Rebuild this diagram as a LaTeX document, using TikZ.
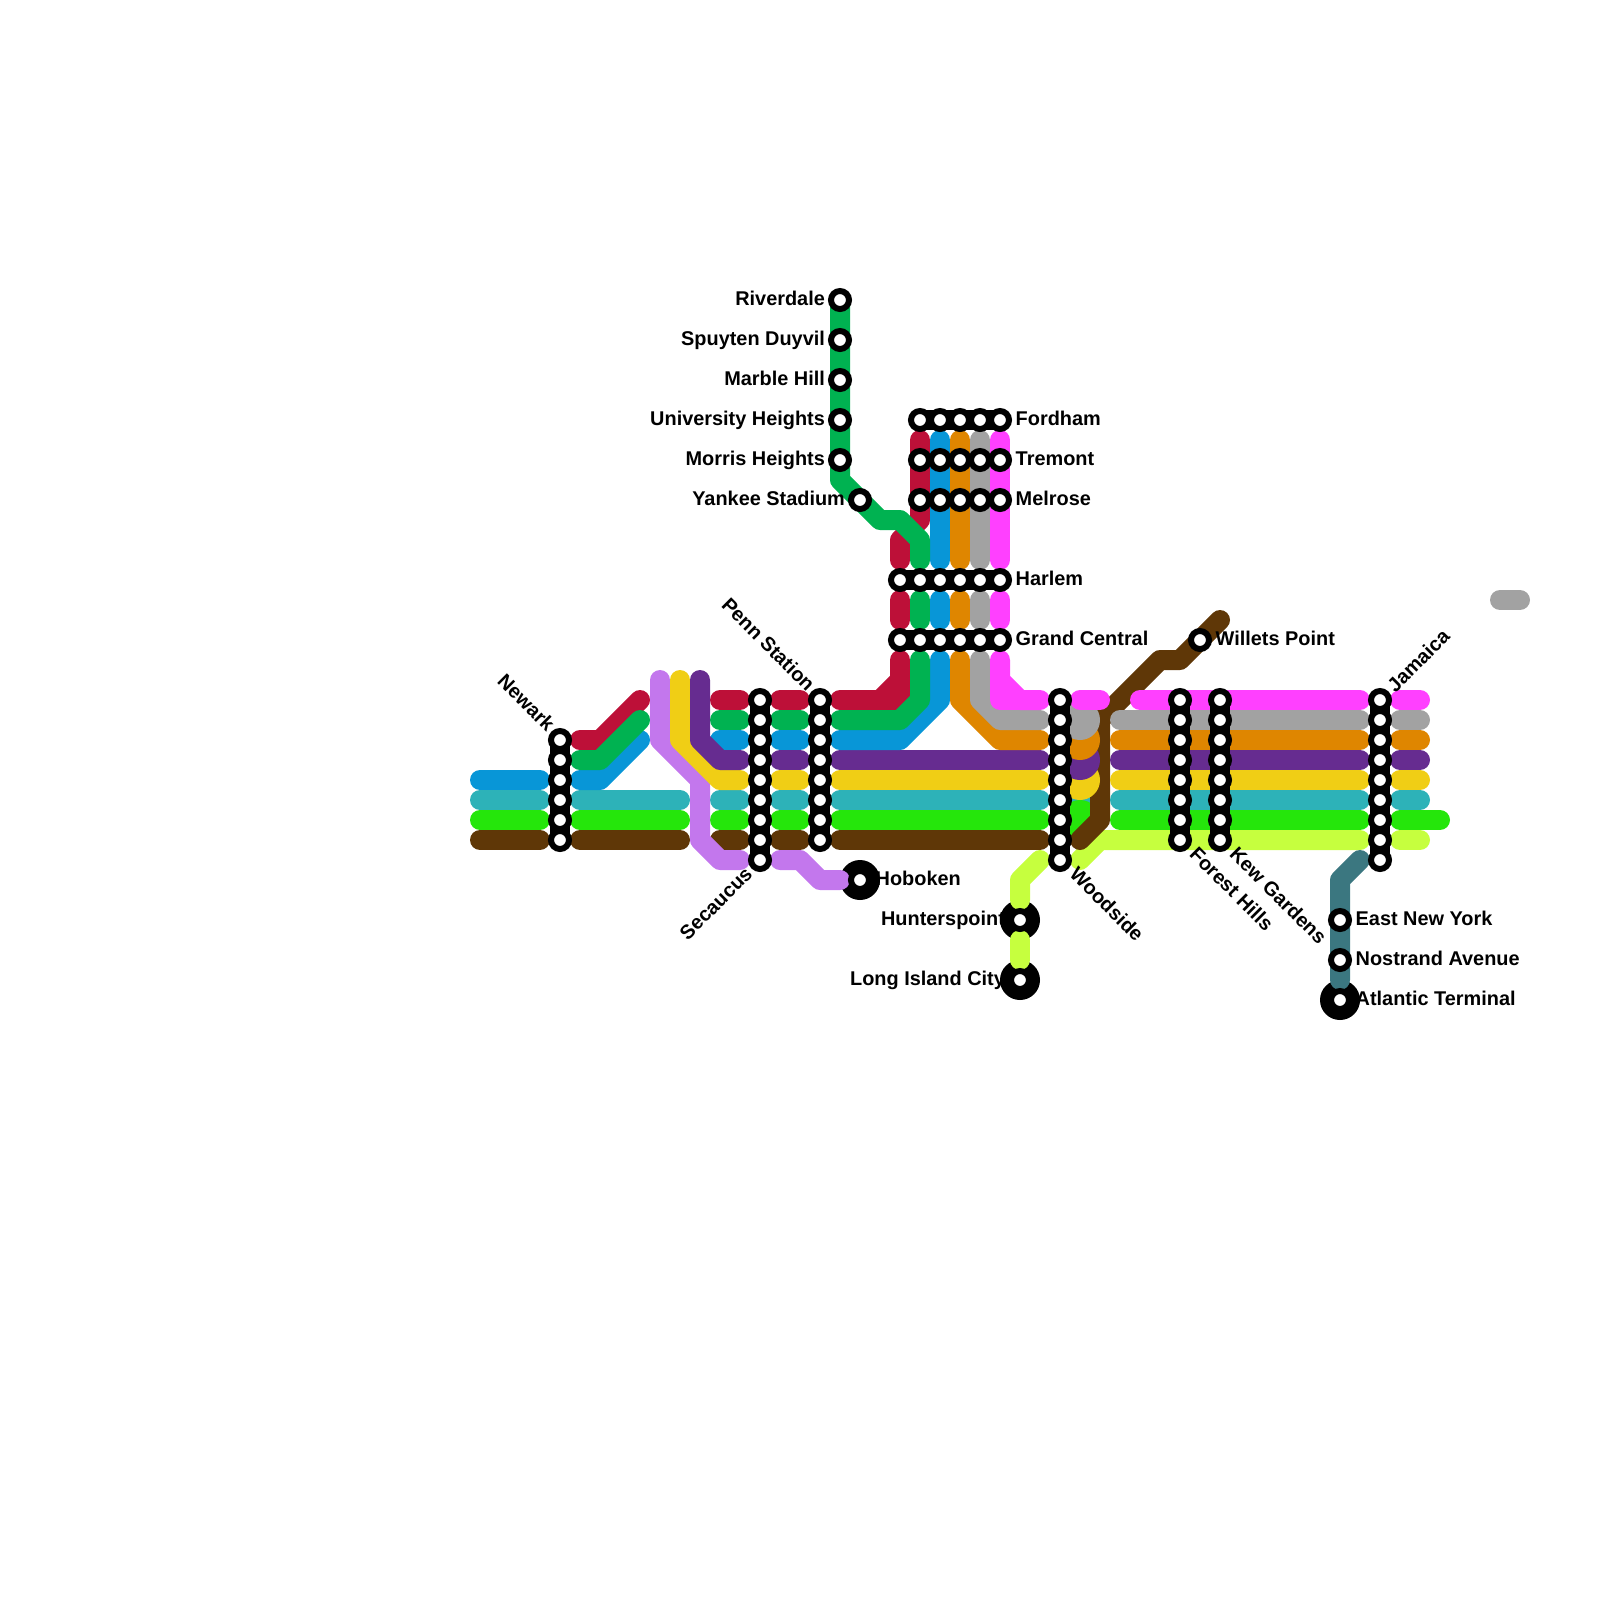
\documentclass[tikz,border=0pt]{standalone}
\usepackage{fontspec}
\setmainfont{Liberation Sans}
\usetikzlibrary{shapes.geometric, calc}
\definecolor{crimson}{HTML}{BD1038}
\definecolor{forest}{HTML}{00B251}
\definecolor{azure}{HTML}{0896D7}
\definecolor{amber}{HTML}{DF8600}
\definecolor{stone}{HTML}{A2A2A2}
\definecolor{pink}{HTML}{FF40FF}
\definecolor{grape}{HTML}{662C90}
\definecolor{gold}{HTML}{F0CE15}
\definecolor{aqua}{HTML}{2DB2B8}
\definecolor{neon}{HTML}{25E60B}
\definecolor{umber}{HTML}{5F3707}
\definecolor{lime2}{HTML}{C6FF3E}
\definecolor{lilac}{HTML}{C377ED}
\definecolor{slate}{HTML}{3B7780}

\begin{document}
\begin{tikzpicture}[
    x=0.2cm, y=-0.2cm,
    track/.style={line width=2mm, line cap=round, line join=round},
    bar/.style={line width=2mm, black},
    stop/.style={draw=black, fill=white, circle, line width=0.6mm, minimum size=1.8mm, inner sep=0pt},
    terminus/.style={fill=black, circle, minimum size=4mm, inner sep=0pt},
    blob/.style={circle, minimum size=4mm, inner sep=0pt},
    tag/.style={font=\fontsize{5.66}{6}\selectfont\bfseries, inner sep=0pt}
]
    \useasboundingbox (0,0) rectangle (80,80);

    \node[terminus] (hobokenT) at (43,44) {};
    \node[terminus] (hunterT) at (51,46) {};
    \node[terminus] (licT) at (51,49) {};
    \node[terminus] (atlanticT) at (67,50) {};

    % west of Newark and on to Secaucus
    \foreach \c/\y in {azure/39, aqua/40, neon/41, umber/42}
        \draw[track,\c] (24,\y) -- (27,\y);
    \foreach \c/\y in {aqua/40, neon/41, umber/42}
        \draw[track,\c] (29,\y) -- (34,\y);
    \draw[track,crimson] (29,37) -- (30,37) -- (32,35);
    \draw[track,azure] (29,39) -- (30,39) -- (32,37);
    \draw[track,forest] (29,38) -- (30,38) -- (32,36);
    \foreach \c/\y in {crimson/35, forest/36, azure/37, aqua/40, neon/41, umber/42}
        \draw[track,\c] (36,\y) -- (37,\y);
    \draw[track,lilac] (33,34) -- (33,37) -- (35,39) -- (35,42) -- (36,43) -- (37,43);
    \draw[track,gold] (34,34) -- (34,37) -- (36,39) -- (37,39);
    \draw[track,grape] (35,34) -- (35,37) -- (36,38) -- (37,38);
    \draw[track,lilac] (39,43) -- (40,43) -- (41,44) -- (42,44);

    % Secaucus to Penn Station
    \foreach \c/\y in {crimson/35, forest/36, azure/37, grape/38, gold/39, aqua/40, neon/41, umber/42}
        \draw[track,\c] (39,\y) -- (40,\y);

    % Penn Station to Woodside
    \foreach \c/\y in {grape/38, gold/39, aqua/40, neon/41, umber/42}
        \draw[track,\c] (42,\y) -- (52,\y);

    % north branches
    \draw[track,crimson] (46,22) -- (46,26) -- (45,27) -- (45,28);
    \draw[track,crimson] (45,30) -- (45,31);
    \draw[track,crimson] (45,33) -- (45,34) -- (44,35) -- (42,35);
    \draw[track,crimson] (44,35) -- (45,35) -- (45,34);
    \draw[track,azure] (47,22) -- (47,28);
    \draw[track,azure] (47,30) -- (47,31);
    \draw[track,azure] (47,33) -- (47,35) -- (45,37) -- (42,37);
    \draw[track,forest] (42,15) -- (42,24) -- (44,26) -- (45,26) -- (46,27) -- (46,28);
    \draw[track,forest] (46,30) -- (46,31);
    \draw[track,forest] (46,33) -- (46,35) -- (45,36) -- (42,36);
    \draw[track,amber] (48,22) -- (48,28);
    \draw[track,amber] (48,30) -- (48,31);
    \draw[track,amber] (48,33) -- (48,35) -- (50,37) -- (52,37);
    \draw[track,stone] (49,22) -- (49,28);
    \draw[track,stone] (49,30) -- (49,31);
    \draw[track,stone] (49,33) -- (49,35) -- (50,36) -- (52,36);
    \draw[track,pink] (50,22) -- (50,28);
    \draw[track,pink] (50,30) -- (50,31);
    \draw[track,pink] (50,33) -- (50,34) -- (51,35) -- (52,35);
    \draw[track,pink] (50,34) -- (50,35) -- (51,35);

    % east of Woodside
    \draw[track,lime2] (54,43) -- (55,42) -- (68,42);
    \node[blob,fill=aqua] (aquaB) at (54,40) {};
    \node[blob,fill=neon] (neonB) at (54,41) {};
    \draw[track,umber] (54,42) -- (55,41) -- (55,36) -- (58,33) -- (59,33) -- (61,31);
    \node[blob,fill=gold] (goldB) at (54,39) {};
    \node[blob,fill=grape] (grapeB) at (54,38) {};
    \node[blob,fill=amber] (amberB) at (54,37) {};
    \node[blob,fill=stone] (stoneB) at (54,36) {};
    \draw[track,pink] (54,35) -- (55,35);
    \draw[track,pink] (57,35) -- (68,35);
    \foreach \c/\y in {stone/36, amber/37, grape/38, gold/39, aqua/40, neon/41}
        \draw[track,\c] (56,\y) -- (68,\y);
    \foreach \c/\y in {pink/35, stone/36, amber/37, grape/38, gold/39, aqua/40, lime2/42}
        \draw[track,\c] (70,\y) -- (71,\y);
    \draw[track,neon] (70,41) -- (72,41);
    \draw[track,stone] (75,30) -- (76,30);

    \draw[track,lime2] (52,43) -- (51,44) -- (51,45);
    \draw[track,lime2] (51,47) -- (51,48);
    \draw[track,slate] (68,43) -- (67,44) -- (67,49);

    % interchange bars
    \foreach \x/\a/\b in {28/37/42, 38/35/43, 41/35/42, 53/35/43, 59/35/42, 61/35/42, 69/35/43}
        \draw[bar] (\x,\a) -- (\x,\b);
    \draw[bar] (46,21) -- (50,21);
    \draw[bar] (45,29) -- (50,29);
    \draw[bar] (45,32) -- (50,32);

    % stations
    \foreach \y in {37,...,42} \node[stop] (newark\y) at (28,\y) {};
    \foreach \y in {35,...,43} \node[stop] (secaucus\y) at (38,\y) {};
    \foreach \y in {35,...,42} \node[stop] (penn\y) at (41,\y) {};
    \foreach \y in {35,...,43} \node[stop] (woodside\y) at (53,\y) {};
    \foreach \y in {35,...,42} \node[stop] (forest\y) at (59,\y) {};
    \foreach \y in {35,...,42} \node[stop] (kew\y) at (61,\y) {};
    \foreach \y in {35,...,43} \node[stop] (jamaica\y) at (69,\y) {};
    \foreach \x in {46,...,50} {
        \node[stop] (fordham\x) at (\x,21) {};
        \node[stop] (tremont\x) at (\x,23) {};
        \node[stop] (melrose\x) at (\x,25) {};
    }
    \foreach \x in {45,...,50} {
        \node[stop] (harlem\x) at (\x,29) {};
        \node[stop] (central\x) at (\x,32) {};
    }
    \node[stop] (riverdale) at (42,15) {};
    \node[stop] (spuyten) at (42,17) {};
    \node[stop] (marble) at (42,19) {};
    \node[stop] (university) at (42,21) {};
    \node[stop] (morris) at (42,23) {};
    \node[stop] (yankee) at (43,25) {};
    \node[stop] (willets) at (60,32) {};
    \node[stop] (hoboken) at (43,44) {};
    \node[stop] (hunter) at (51,46) {};
    \node[stop] (lic) at (51,49) {};
    \node[stop] (eastny) at (67,46) {};
    \node[stop] (nostrand) at (67,48) {};
    \node[stop] (atlantic) at (67,50) {};

    % labels
    \foreach \n/\t in {riverdale/Riverdale, spuyten/Spuyten Duyvil, marble/Marble Hill, university/University Heights, morris/Morris Heights, yankee/Yankee Stadium, hunter/Hunterspoint, lic/Long Island City}
        \node[tag, anchor=base east] (\n Tag) at ($(\n)+(-0.72,0.27)$) {\t};
    \foreach \n/\t in {fordham50/Fordham, tremont50/Tremont, melrose50/Melrose, harlem50/Harlem, central50/Grand Central, willets/Willets Point, hoboken/Hoboken, eastny/East New York, nostrand/Nostrand Avenue, atlantic/Atlantic Terminal}
        \node[tag, anchor=base west] (\n Tag) at ($(\n)+(0.75,0.27)$) {\t};
    \foreach \n/\t in {newark37/Newark, penn35/Penn Station}
        \node[tag, rotate=-45, anchor=base east] (\n Tag) at ($(\n)+(-0.65,-0.35)$) {\t};
    \foreach \n/\t in {woodside43/Woodside, forest42/Forest Hills, kew42/Kew Gardens}
        \node[tag, rotate=-45, anchor=base west] (\n Tag) at ($(\n)+(0.4,0.75)$) {\t};
    \node[tag, rotate=45, anchor=base east] (secaucusTag) at ($(secaucus43)+(-0.3,0.75)$) {Secaucus};
    \node[tag, rotate=45, anchor=base west] (jamaicaTag) at ($(jamaica35)+(0.75,-0.3)$) {Jamaica};
\end{tikzpicture}
\end{document}
